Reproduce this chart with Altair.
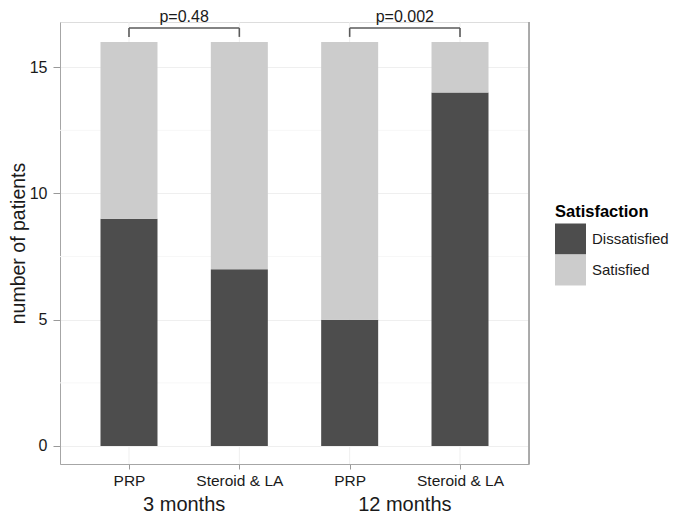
import altair as alt
import pandas as pd

# data
positions = [1, 2, 3, 4]
treatments = ["PRP", "Steroid & LA", "PRP", "Steroid & LA"]
periods = ["3 months", "3 months", "12 months", "12 months"]
dissatisfied = [9, 7, 5, 14]
satisfied = [7, 9, 11, 2]
p_values = ["p=0.48", "p=0.002"]
p_left = [1, 3]
p_right = [2, 4]
group_names = ["3 months", "12 months"]
group_centers = [1.5, 3.5]
minor_grid = [2.5, 7.5, 12.5]

rows = []
for i, p in enumerate(positions):
    rows.append({"pos": p, "Satisfaction": "Dissatisfied", "n": dissatisfied[i], "ord": 0})
    rows.append({"pos": p, "Satisfaction": "Satisfied", "n": satisfied[i], "ord": 1})
bars_df = pd.DataFrame(rows)

bracket_top = 16.55
bracket_tick = 16.2
seg = []
for a, b in zip(p_left, p_right):
    seg.append({"x": a, "x2": b, "y": bracket_top, "y2": bracket_top})
    seg.append({"x": a, "x2": a, "y": bracket_tick, "y2": bracket_top})
    seg.append({"x": b, "x2": b, "y": bracket_tick, "y2": bracket_top})
seg_df = pd.DataFrame(seg)
ptext_df = pd.DataFrame({"x": [(a + b) / 2 for a, b in zip(p_left, p_right)], "label": p_values})
group_df = pd.DataFrame({"x": group_centers, "label": group_names})
minor_df = pd.DataFrame({"y": minor_grid})
vgrid_df = pd.DataFrame({"x": positions})

W, H = 469, 442
PAD_L, PAD_T = 52, 14
PAD_R = 682 - 16 - PAD_L - W
PAD_B = 524 - 16 - PAD_T - H
FONT = "Liberation Sans"

xscale = alt.Scale(domain=[0.42, 4.58], nice=False, zero=False)
yscale = alt.Scale(domain=[-0.713, 16.79], nice=False, zero=False)

label_expr = "datum.value == 1 || datum.value == 3 ? 'PRP' : 'Steroid & LA'"

minor = alt.Chart(minor_df).mark_rule(color="#F7F7F7", strokeWidth=1).encode(
    y=alt.Y("y:Q", scale=yscale)
)
vgrid = alt.Chart(vgrid_df).mark_rule(color="#EFEFEF", strokeWidth=1).encode(
    x=alt.X("x:Q", scale=xscale)
)

bars = alt.Chart(bars_df).mark_bar(size=57).encode(
    x=alt.X("pos:Q", scale=xscale,
            axis=alt.Axis(values=positions, labelExpr=label_expr, title=None,
                          grid=False, tickSize=5, labelPadding=4, labelFontSize=15.5,
                          labelColor="#1a1a1a", tickColor="#999999", domainColor="#A6A6A6",
                          labelFont=FONT)),
    y=alt.Y("n:Q", stack="zero", scale=yscale,
            axis=alt.Axis(values=[0, 5, 10, 15], title="number of patients",
                          grid=True, gridColor="#EFEFEF", tickSize=7, labelPadding=6,
                          labelFontSize=16, labelColor="#1a1a1a", tickColor="#999999",
                          domainColor="#A6A6A6", titleFontSize=19.5, titleFontWeight="normal",
                          titleColor="#1a1a1a", titlePadding=1, labelFont=FONT, titleFont=FONT)),
    color=alt.Color("Satisfaction:N",
                    scale=alt.Scale(domain=["Dissatisfied", "Satisfied"],
                                    range=["#4D4D4D", "#CCCCCC"]),
                    legend=alt.Legend(orient="none", legendX=495, legendY=182,
                                      symbolType="square", symbolSize=961,
                                      symbolStrokeWidth=0, rowPadding=0,
                                      titleFontSize=16.5, titleFontWeight="bold",
                                      titleColor="#000000", labelFontSize=15,
                                      labelColor="#1a1a1a", labelOffset=6,
                                      titlePadding=3, titleFont=FONT, labelFont=FONT)),
    order=alt.Order("ord:Q"),
)

right_border = alt.Chart(vgrid_df).mark_rule(color="#A6A6A6", strokeWidth=1).encode(
    x=alt.value(W), y=alt.value(0), y2=alt.value(H)
)

brackets = alt.Chart(seg_df).mark_rule(color="#5a5a5a", strokeWidth=1.6).encode(
    x=alt.X("x:Q", scale=xscale), x2="x2:Q",
    y=alt.Y("y:Q", scale=yscale), y2="y2:Q",
)

ptext = alt.Chart(ptext_df).mark_text(fontSize=16, font=FONT, color="#1a1a1a",
                                      baseline="alphabetic").encode(
    x=alt.X("x:Q", scale=xscale), y=alt.value(0), text="label:N"
)

groups = alt.Chart(group_df).mark_text(fontSize=20, font=FONT, color="#1a1a1a",
                                       baseline="alphabetic").encode(
    x=alt.X("x:Q", scale=xscale), y=alt.value(H + 47), text="label:N"
)

chart = alt.layer(minor, vgrid, bars, right_border, brackets, ptext, groups).properties(
    width=W, height=H,
    padding={"left": PAD_L, "top": PAD_T, "right": PAD_R, "bottom": PAD_B},
    autosize=alt.AutoSizeParams(type="none"),
).configure_view(stroke=None).configure(background="white")

chart.save("out.html", embed_options={"renderer": "svg", "actions": False})
